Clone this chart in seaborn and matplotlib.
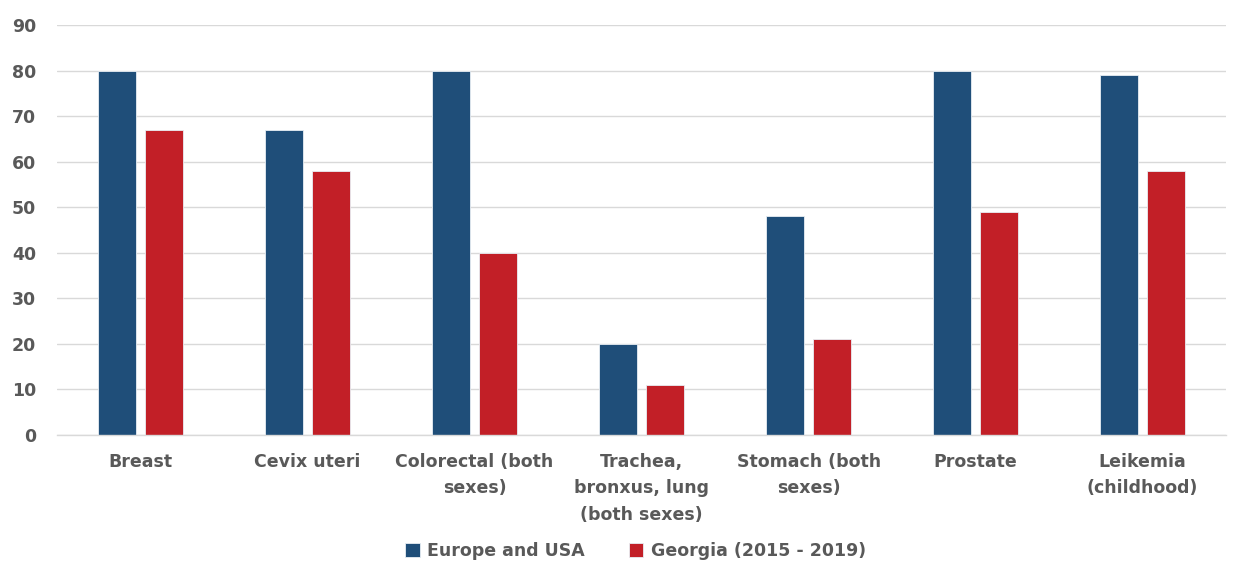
import matplotlib
matplotlib.use("Agg")
import matplotlib.pyplot as plt
import pandas as pd
import seaborn as sns

categories = [
    "Breast",
    "Cevix uteri",
    "Colorectal (both\nsexes)",
    "Trachea,\nbronxus, lung\n(both sexes)",
    "Stomach (both\nsexes)",
    "Prostate",
    "Leikemia\n(childhood)",
]
europe_usa = [80, 67, 80, 20, 48, 80, 79]
georgia = [67, 58, 40, 11, 21, 49, 58]
series_names = ["Europe and USA", "Georgia (2015 - 2019)"]
y_ticks = [0, 10, 20, 30, 40, 50, 60, 70, 80, 90]

df = pd.DataFrame({
    "category": categories * 2,
    "value": europe_usa + georgia,
    "series": [series_names[0]] * len(categories) + [series_names[1]] * len(categories),
})

sns.set_theme(style="white")
plt.rcParams["font.family"] = ["DejaVu Sans"]

text_color = "#595959"
grid_color = "#D9D9D9"
palette = {series_names[0]: "#1F4E79", series_names[1]: "#C21F27"}

fig = plt.figure(figsize=(12.34, 5.63), dpi=100)
ax = fig.add_axes([0.0462, 0.2274, 0.9474, 0.7282])

sns.barplot(
    data=df, x="category", y="value", hue="series", order=categories,
    hue_order=series_names, palette=palette, width=0.569, gap=0.2,
    saturation=1, edgecolor="#E8EEF4", linewidth=0.6, ax=ax,
)

ax.set_ylim(0, 90)
ax.set_xlim(-0.5, len(categories) - 0.5)
ax.set_yticks(y_ticks)
ax.yaxis.grid(True, color=grid_color, linewidth=1)
ax.set_axisbelow(True)
for side in ["top", "right", "left"]:
    ax.spines[side].set_visible(False)
ax.spines["bottom"].set_color(grid_color)
ax.spines["bottom"].set_linewidth(1)
ax.tick_params(axis="both", length=0, colors=text_color)
ax.tick_params(axis="y", pad=15)
ax.tick_params(axis="x", pad=13)
for lbl in ax.get_yticklabels():
    lbl.set_fontsize(12.5)
    lbl.set_fontweight("bold")
    lbl.set_color(text_color)
for lbl in ax.get_xticklabels():
    lbl.set_fontsize(12.5)
    lbl.set_fontweight("bold")
    lbl.set_color(text_color)
    lbl.set_linespacing(1.6)
ax.set_xlabel("")
ax.set_ylabel("")

handles, labels = ax.get_legend_handles_labels()
ax.get_legend().remove()
leg = fig.legend(
    handles, labels, loc="center", bbox_to_anchor=(0.515, 0.021), ncol=2,
    frameon=False, handlelength=0.85, handleheight=0.85, handletextpad=0.45,
    columnspacing=2.5, prop={"size": 12.5, "weight": "bold"},
)
for t in leg.get_texts():
    t.set_color(text_color)

fig.savefig("out.png", dpi=100)
